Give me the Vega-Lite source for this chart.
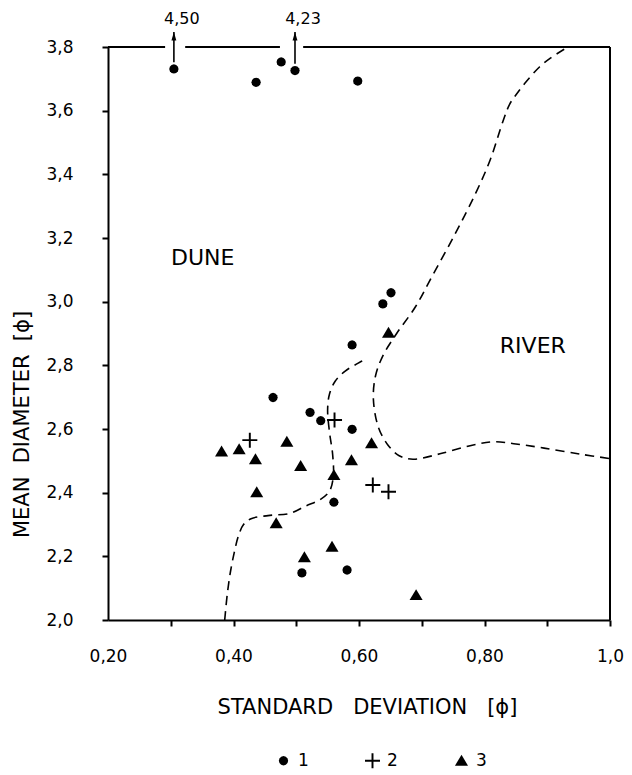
{
  "$schema": "https://vega.github.io/schema/vega-lite/v6.json",
  "width": 502,
  "height": 573,
  "autosize": {"type": "none"},
  "padding": {"left": 108, "top": 47, "right": 22, "bottom": 155},
  "background": "white",
  "config": {
    "view": {"stroke": null},
    "font": "DejaVu Sans",
    "axis": {
      "domainColor": "black", "domainWidth": 2, "tickColor": "black", "tickWidth": 2, "tickSize": 6,
      "grid": false, "labelFont": "DejaVu Sans", "labelFontSize": 17, "labelColor": "black",
      "titleFont": "DejaVu Sans", "titleFontSize": 21, "titleFontWeight": "normal", "titleColor": "black"
    }
  },
  "datasets": {
    "points": [
      {"sd": 0.305, "mean": 3.731, "type": "1"},
      {"sd": 0.436, "mean": 3.689, "type": "1"},
      {"sd": 0.476, "mean": 3.753, "type": "1"},
      {"sd": 0.498, "mean": 3.726, "type": "1"},
      {"sd": 0.598, "mean": 3.693, "type": "1"},
      {"sd": 0.651, "mean": 3.028, "type": "1"},
      {"sd": 0.638, "mean": 2.993, "type": "1"},
      {"sd": 0.589, "mean": 2.864, "type": "1"},
      {"sd": 0.463, "mean": 2.699, "type": "1"},
      {"sd": 0.522, "mean": 2.652, "type": "1"},
      {"sd": 0.539, "mean": 2.626, "type": "1"},
      {"sd": 0.589, "mean": 2.599, "type": "1"},
      {"sd": 0.560, "mean": 2.370, "type": "1"},
      {"sd": 0.509, "mean": 2.148, "type": "1"},
      {"sd": 0.581, "mean": 2.157, "type": "1"},
      {"sd": 0.561, "mean": 2.628, "type": "2"},
      {"sd": 0.426, "mean": 2.565, "type": "2"},
      {"sd": 0.622, "mean": 2.424, "type": "2"},
      {"sd": 0.647, "mean": 2.403, "type": "2"},
      {"sd": 0.647, "mean": 2.902, "type": "3"},
      {"sd": 0.381, "mean": 2.529, "type": "3"},
      {"sd": 0.409, "mean": 2.536, "type": "3"},
      {"sd": 0.435, "mean": 2.505, "type": "3"},
      {"sd": 0.485, "mean": 2.560, "type": "3"},
      {"sd": 0.507, "mean": 2.484, "type": "3"},
      {"sd": 0.620, "mean": 2.555, "type": "3"},
      {"sd": 0.588, "mean": 2.502, "type": "3"},
      {"sd": 0.560, "mean": 2.455, "type": "3"},
      {"sd": 0.437, "mean": 2.401, "type": "3"},
      {"sd": 0.468, "mean": 2.304, "type": "3"},
      {"sd": 0.513, "mean": 2.197, "type": "3"},
      {"sd": 0.557, "mean": 2.230, "type": "3"},
      {"sd": 0.691, "mean": 2.078, "type": "3"}
    ],
    "curves": [
      {"curve": "A", "ord": 1, "sd": 0.386, "mean": 2.000},
      {"curve": "A", "ord": 2, "sd": 0.390, "mean": 2.080},
      {"curve": "A", "ord": 3, "sd": 0.395, "mean": 2.150},
      {"curve": "A", "ord": 4, "sd": 0.401, "mean": 2.210},
      {"curve": "A", "ord": 5, "sd": 0.408, "mean": 2.265},
      {"curve": "A", "ord": 6, "sd": 0.416, "mean": 2.300},
      {"curve": "A", "ord": 7, "sd": 0.428, "mean": 2.318},
      {"curve": "A", "ord": 8, "sd": 0.455, "mean": 2.328},
      {"curve": "A", "ord": 9, "sd": 0.490, "mean": 2.335},
      {"curve": "A", "ord": 10, "sd": 0.515, "mean": 2.358},
      {"curve": "A", "ord": 11, "sd": 0.538, "mean": 2.378},
      {"curve": "A", "ord": 12, "sd": 0.553, "mean": 2.405},
      {"curve": "A", "ord": 13, "sd": 0.559, "mean": 2.450},
      {"curve": "A", "ord": 14, "sd": 0.558, "mean": 2.520},
      {"curve": "A", "ord": 15, "sd": 0.553, "mean": 2.590},
      {"curve": "A", "ord": 16, "sd": 0.550, "mean": 2.660},
      {"curve": "A", "ord": 17, "sd": 0.553, "mean": 2.710},
      {"curve": "A", "ord": 18, "sd": 0.562, "mean": 2.750},
      {"curve": "A", "ord": 19, "sd": 0.578, "mean": 2.782},
      {"curve": "A", "ord": 20, "sd": 0.598, "mean": 2.806},
      {"curve": "A", "ord": 21, "sd": 0.612, "mean": 2.822},
      {"curve": "B", "ord": 1, "sd": 0.927, "mean": 3.793},
      {"curve": "B", "ord": 2, "sd": 0.905, "mean": 3.765},
      {"curve": "B", "ord": 3, "sd": 0.888, "mean": 3.738},
      {"curve": "B", "ord": 4, "sd": 0.866, "mean": 3.690},
      {"curve": "B", "ord": 5, "sd": 0.850, "mean": 3.649},
      {"curve": "B", "ord": 6, "sd": 0.840, "mean": 3.620},
      {"curve": "B", "ord": 7, "sd": 0.830, "mean": 3.570},
      {"curve": "B", "ord": 8, "sd": 0.809, "mean": 3.445},
      {"curve": "B", "ord": 9, "sd": 0.786, "mean": 3.341},
      {"curve": "B", "ord": 10, "sd": 0.754, "mean": 3.216},
      {"curve": "B", "ord": 11, "sd": 0.716, "mean": 3.078},
      {"curve": "B", "ord": 12, "sd": 0.690, "mean": 2.984},
      {"curve": "B", "ord": 13, "sd": 0.660, "mean": 2.900},
      {"curve": "B", "ord": 14, "sd": 0.638, "mean": 2.830},
      {"curve": "B", "ord": 15, "sd": 0.626, "mean": 2.764},
      {"curve": "B", "ord": 16, "sd": 0.623, "mean": 2.691},
      {"curve": "B", "ord": 17, "sd": 0.631, "mean": 2.605},
      {"curve": "B", "ord": 18, "sd": 0.646, "mean": 2.550},
      {"curve": "B", "ord": 19, "sd": 0.664, "mean": 2.516},
      {"curve": "B", "ord": 20, "sd": 0.686, "mean": 2.505},
      {"curve": "B", "ord": 21, "sd": 0.729, "mean": 2.522},
      {"curve": "B", "ord": 22, "sd": 0.782, "mean": 2.550},
      {"curve": "B", "ord": 23, "sd": 0.815, "mean": 2.560},
      {"curve": "B", "ord": 24, "sd": 0.850, "mean": 2.553},
      {"curve": "B", "ord": 25, "sd": 0.895, "mean": 2.540},
      {"curve": "B", "ord": 26, "sd": 0.953, "mean": 2.521},
      {"curve": "B", "ord": 27, "sd": 1.000, "mean": 2.507}
    ],
    "topframe": [
      {"sd": 0.2, "sd2": 0.291},
      {"sd": 0.323, "sd2": 0.474},
      {"sd": 0.511, "sd2": 1.0}
    ],
    "arrows": [
      {"sd": 0.305, "mean": 3.752, "mean2": 3.847, "label": "4,50"},
      {"sd": 0.498, "mean": 3.747, "mean2": 3.847, "label": "4,23"}
    ],
    "regions": [
      {"sd": 0.351, "mean": 3.137, "label": "DUNE"},
      {"sd": 0.877, "mean": 2.862, "label": "RIVER"}
    ]
  },
  "layer": [
    {
      "data": {"name": "curves"},
      "mark": {"type": "line", "color": "black", "strokeWidth": 1.6, "strokeDash": [9, 6], "interpolate": "catmull-rom"},
      "encoding": {
        "x": {
          "field": "sd", "type": "quantitative",
          "scale": {"domain": [0.2, 1.0], "nice": false, "zero": false},
          "axis": {
            "values": [0.2, 0.3, 0.4, 0.5, 0.6, 0.7, 0.8, 0.9, 1.0],
            "labelExpr": "abs(datum.value-0.2)<0.01 ? '0,20' : abs(datum.value-0.4)<0.01 ? '0,40' : abs(datum.value-0.6)<0.01 ? '0,60' : abs(datum.value-0.8)<0.01 ? '0,80' : abs(datum.value-1)<0.01 ? '1,0' : ''",
            "labelPadding": 22, "labelDx": 5, "labelFlush": false, "labelOverlap": false,
            "tickOpacity": {"condition": {"test": "datum.value < 0.25", "value": 0}, "value": 1},
            "title": "STANDARD\u00a0\u00a0\u00a0DEVIATION\u00a0\u00a0\u00a0[ϕ]",
            "titleX": 259, "titleY": 93, "titleBaseline": "alphabetic", "titleAlign": "center"
          }
        },
        "y": {
          "field": "mean", "type": "quantitative",
          "scale": {"domain": [2.0, 3.8], "nice": false, "zero": false},
          "axis": {
            "values": [2.0, 2.2, 2.4, 2.6, 2.8, 3.0, 3.2, 3.4, 3.6, 3.8],
            "labelExpr": "replace(format(datum.value, '.1f'), '.', ',')",
            "labelPadding": 29, "labelFlush": false, "labelOverlap": false,
            "title": "MEAN\u00a0\u00a0DIAMETER\u00a0\u00a0[ϕ]",
            "titleX": -86, "titleY": 377, "titleAngle": -90, "titleAlign": "center", "titleBaseline": "middle"
          }
        },
        "detail": {"field": "curve", "type": "nominal"},
        "order": {"field": "ord", "type": "quantitative"}
      }
    },
    {
      "data": {"name": "topframe"},
      "mark": {"type": "rule", "color": "black", "strokeWidth": 2},
      "encoding": {
        "x": {"field": "sd", "type": "quantitative"},
        "x2": {"field": "sd2"},
        "y": {"datum": 3.8, "type": "quantitative"}
      }
    },
    {
      "data": {"values": [{"sd": 1.0}]},
      "mark": {"type": "rule", "color": "black", "strokeWidth": 2},
      "encoding": {
        "x": {"field": "sd", "type": "quantitative"},
        "y": {"datum": 2.0, "type": "quantitative"},
        "y2": {"datum": 3.8}
      }
    },
    {
      "data": {"name": "arrows"},
      "mark": {"type": "rule", "color": "black", "strokeWidth": 1.6},
      "encoding": {
        "x": {"field": "sd", "type": "quantitative"},
        "y": {"field": "mean", "type": "quantitative"},
        "y2": {"field": "mean2"}
      }
    },
    {
      "data": {"name": "arrows"},
      "mark": {"type": "point", "shape": "M-0.35,1.2L0,0L0.35,1.2Z", "filled": true, "color": "black", "size": 196, "opacity": 1},
      "encoding": {
        "x": {"field": "sd", "type": "quantitative"},
        "y": {"field": "mean2", "type": "quantitative"}
      }
    },
    {
      "data": {"name": "arrows"},
      "mark": {"type": "text", "font": "DejaVu Sans", "fontSize": 16, "color": "black", "dx": 8, "dy": -13, "baseline": "middle", "align": "center"},
      "encoding": {
        "x": {"field": "sd", "type": "quantitative"},
        "y": {"field": "mean2", "type": "quantitative"},
        "text": {"field": "label"}
      }
    },
    {
      "data": {"name": "regions"},
      "mark": {"type": "text", "font": "DejaVu Sans", "fontSize": 22, "color": "black", "baseline": "middle", "align": "center"},
      "encoding": {
        "x": {"field": "sd", "type": "quantitative"},
        "y": {"field": "mean", "type": "quantitative"},
        "text": {"field": "label"}
      }
    },
    {
      "data": {"name": "points"},
      "mark": {"type": "point", "filled": true, "color": "black", "strokeWidth": 0, "size": 225, "opacity": 1},
      "encoding": {
        "x": {"field": "sd", "type": "quantitative"},
        "y": {"field": "mean", "type": "quantitative"},
        "shape": {
          "field": "type", "type": "nominal",
          "scale": {
            "domain": ["1", "2", "3"],
            "range": [
              "M0.62,0L0.537,0.31L0.31,0.537L0,0.62L-0.31,0.537L-0.537,0.31L-0.62,0L-0.537,-0.31L-0.31,-0.537L0,-0.62L0.31,-0.537L0.537,-0.31Z",
              "M-1,-0.13L-0.13,-0.13L-0.13,-1L0.13,-1L0.13,-0.13L1,-0.13L1,0.13L0.13,0.13L0.13,1L-0.13,1L-0.13,0.13L-1,0.13Z",
              "M0,-0.8L0.87,0.66L-0.87,0.66Z"
            ]
          },
          "legend": {
            "orient": "none", "legendX": 167, "legendY": 705, "direction": "horizontal", "columns": 3,
            "title": null, "symbolSize": 225, "symbolFillColor": "black", "symbolStrokeWidth": 0,
            "labelFont": "DejaVu Sans", "labelFontSize": 17, "labelColor": "black",
            "labelOffset": 6, "columnPadding": 55,
            "encode": {
              "symbols": {"update": {"fill": {"value": "black"}, "opacity": {"value": 1}}}
            }
          }
        }
      }
    }
  ]
}
